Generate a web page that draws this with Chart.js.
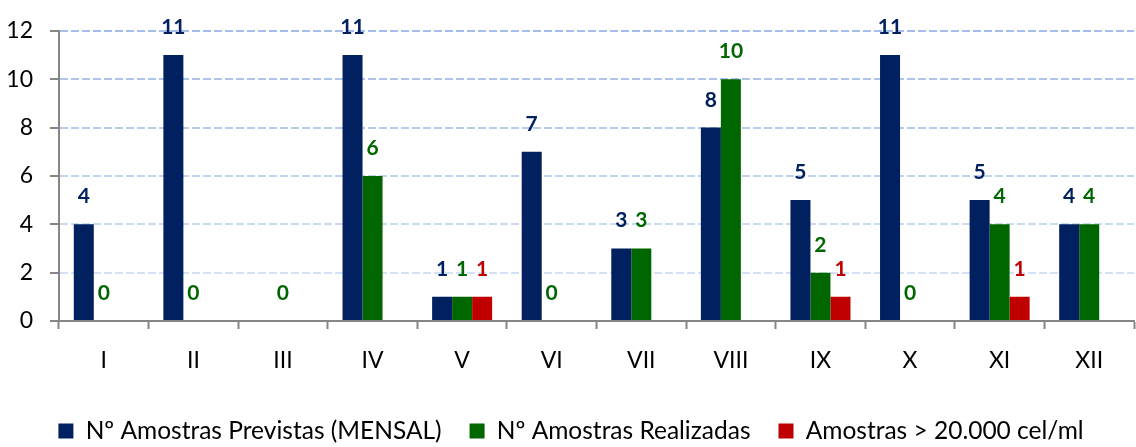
<!DOCTYPE html>
<html>
<head>
<meta charset="utf-8">
<script src="https://cdn.jsdelivr.net/npm/chart.js@4"></script>
<style>
  html, body { margin: 0; padding: 0; background: #ffffff; }
  #wrap { width: 1136px; height: 447px; }
</style>
</head>
<body>
<div id="wrap"><canvas id="grafico" width="1136" height="447"></canvas></div>
<script>
// Dados do gráfico
var meses = ["I", "II", "III", "IV", "V", "VI", "VII", "VIII", "IX", "X", "XI", "XII"];
var previstas = [4, 11, null, 11, 1, 7, 3, 8, 5, 11, 5, 4];
var realizadas = [0, 0, 0, 6, 1, 0, 3, 10, 2, 0, 4, 4];
var acima20000 = [null, null, null, null, 1, null, null, null, 1, null, 1, null];
var ticksY = [0, 2, 4, 6, 8, 10, 12];

var nomes = ["Nº Amostras Previstas (MENSAL)", "Nº Amostras Realizadas", "Amostras > 20.000 cel/ml"];
var cores = ["#002060", "#006600", "#C00000"];

var fonte = "Lato, 'Liberation Sans', sans-serif";

// Etiquetas de valor por cima das barras
var etiquetas = {
  id: "etiquetas",
  afterDatasetsDraw: function(chart) {
    var ctx = chart.ctx;
    ctx.save();
    ctx.font = "bold 21px " + fonte;
    ctx.textAlign = "center";
    ctx.textBaseline = "alphabetic";
    chart.data.datasets.forEach(function(ds, i) {
      var meta = chart.getDatasetMeta(i);
      meta.data.forEach(function(bar, j) {
        var v = ds.data[j];
        if (v === null || v === undefined) return;
        ctx.fillStyle = ds.backgroundColor;
        ctx.fillText(String(v), bar.x, bar.y - 21);
      });
    });
    ctx.restore();
  }
};

// Cor das linhas de grelha: mais clara em baixo
function corGrelha(c) {
  var t = c.tick ? c.tick.value / 12 : 0;
  var r = Math.round(222 - t * 58);
  var g = Math.round(231 - t * 42);
  var b = Math.round(245 - t * 12);
  return "rgb(" + r + "," + g + "," + b + ")";
}

var ctx = document.getElementById("grafico").getContext("2d");

var chart = new Chart(ctx, {
  type: "bar",
  data: {
    labels: meses,
    datasets: [
      { label: nomes[0], data: previstas, backgroundColor: cores[0], borderWidth: 0 },
      { label: nomes[1], data: realizadas, backgroundColor: cores[1], borderWidth: 0 },
      { label: nomes[2], data: acima20000, backgroundColor: cores[2], borderWidth: 0 }
    ]
  },
  options: {
    responsive: false,
    animation: false,
    layout: { padding: { top: 30, left: 8, right: 2, bottom: -6.25 } },
    datasets: {
      bar: { categoryPercentage: 0.67, barPercentage: 1, skipNull: false }
    },
    scales: {
      x: {
        afterFit: function(axis) { axis.height = 69.75; },
        grid: { drawOnChartArea: false, drawTicks: true, tickLength: 8, tickColor: "#868686", tickWidth: 2, offset: true },
        border: { color: "#868686", width: 2 },
        ticks: { color: "#000000", font: { family: fonte, size: 23 }, padding: 18 }
      },
      y: {
        min: 0,
        max: 12,
        afterBuildTicks: function(axis) {
          axis.ticks = ticksY.map(function(v) { return { value: v }; });
        },
        afterFit: function(axis) { axis.width = 51; },
        grid: {
          color: corGrelha,
          lineWidth: 2,
          tickColor: "#868686",
          tickBorderDash: [],
          tickLength: 9,
          tickWidth: 2
        },
        border: { color: "#868686", width: 2, dash: [8, 3] },
        ticks: { color: "#000000", font: { family: fonte, size: 23 }, padding: 17 }
      }
    },
    plugins: {
      legend: {
        position: "bottom",
        labels: {
          color: "#000000",
          font: { family: fonte, size: 24.5 },
          boxWidth: 15,
          boxHeight: 15,
          padding: 28
        }
      },
      tooltip: { enabled: false }
    }
  },
  plugins: [etiquetas]
});
</script>
</body>
</html>
